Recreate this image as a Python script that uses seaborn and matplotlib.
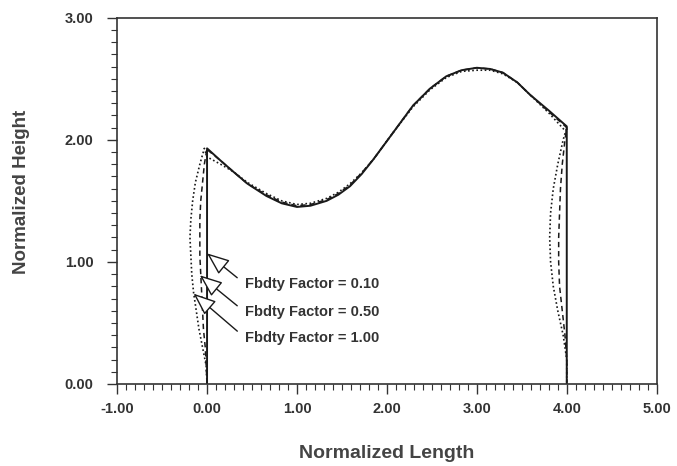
import numpy as np
import pandas as pd
import seaborn as sns
import matplotlib
matplotlib.use("Agg")
import matplotlib.pyplot as plt
from matplotlib.ticker import MultipleLocator, FormatStrFormatter

# left wall, read bottom to top
wall_y = [0.0, 0.15, 0.3, 0.45, 0.6, 0.75, 0.9, 1.05, 1.2, 1.35, 1.5, 1.65, 1.8, 1.93]
left_x_010 = [0.0, 0.0, 0.0, 0.0, 0.0, 0.0, 0.0, 0.0, 0.0, 0.0, 0.0, 0.0, 0.0, 0.0]
left_x_050 = [0.0, -0.01, -0.02, -0.04, -0.05, -0.06, -0.07, -0.08, -0.08, -0.08, -0.07, -0.05, -0.03, 0.0]
left_x_100 = [0.0, -0.01, -0.05, -0.09, -0.12, -0.15, -0.17, -0.18, -0.19, -0.18, -0.16, -0.13, -0.08, -0.03]

# top surface, read left to right
top_x = [0.0, 0.15, 0.29, 0.45, 0.66, 0.83, 1.0, 1.15, 1.33, 1.46, 1.59, 1.72, 1.85, 2.07,
         2.29, 2.48, 2.66, 2.83, 3.0, 3.15, 3.29, 3.45, 3.59, 3.8, 4.0]
top_y_010 = [1.93, 1.83, 1.74, 1.64, 1.54, 1.48, 1.45, 1.46, 1.50, 1.55, 1.62, 1.72, 1.84, 2.06,
             2.28, 2.42, 2.52, 2.57, 2.59, 2.58, 2.55, 2.47, 2.37, 2.24, 2.11]
top_y_050 = [1.92, 1.83, 1.74, 1.64, 1.55, 1.49, 1.46, 1.47, 1.51, 1.56, 1.63, 1.73, 1.84, 2.06,
             2.28, 2.42, 2.52, 2.57, 2.59, 2.58, 2.55, 2.47, 2.37, 2.23, 2.10]
top_y_100 = [1.86, 1.80, 1.74, 1.65, 1.56, 1.50, 1.47, 1.48, 1.52, 1.57, 1.64, 1.73, 1.84, 2.06,
             2.27, 2.41, 2.51, 2.56, 2.57, 2.57, 2.54, 2.47, 2.37, 2.22, 2.06]

# right wall, read top to bottom
right_y = [2.1, 2.0, 1.8, 1.6, 1.4, 1.2, 1.0, 0.8, 0.6, 0.4, 0.2, 0.0]
right_x_010 = [4.0, 4.0, 4.0, 4.0, 4.0, 4.0, 4.0, 4.0, 4.0, 4.0, 4.0, 4.0]
right_x_050 = [4.0, 3.98, 3.95, 3.93, 3.92, 3.91, 3.91, 3.92, 3.95, 3.98, 4.0, 4.0]
right_x_100 = [4.0, 3.96, 3.90, 3.85, 3.82, 3.81, 3.82, 3.85, 3.90, 3.96, 4.0, 4.0]

labels = ["Fbdty Factor = 0.10", "Fbdty Factor = 0.50", "Fbdty Factor = 1.00"]
arrow_tips_x = [0.0, -0.08, -0.15]
arrow_tips_y = [1.07, 0.89, 0.74]
label_y = [0.82, 0.59, 0.38]


def outline(lx, ty, rx):
    xs = list(lx) + top_x + list(rx)
    ys = list(wall_y) + list(ty) + right_y
    return pd.DataFrame({"x": xs, "y": ys})


sns.set_style("ticks")
plt.rcParams["font.family"] = ["Liberation Sans", "DejaVu Sans"]

fig = plt.figure(figsize=(6.77, 4.66), dpi=100)
ax = fig.add_axes([0.173, 0.176, 0.797, 0.786])

styles = [("-", 1.4), ((0, (3.5, 2.5)), 1.1), ((0, (1, 1.5)), 1.2)]
sets = [(left_x_010, top_y_010, right_x_010),
        (left_x_050, top_y_050, right_x_050),
        (left_x_100, top_y_100, right_x_100)]
for (lx, ty, rx), (ls, lw) in zip(sets, styles):
    df = outline(lx, ty, rx)
    sns.lineplot(data=df, x="x", y="y", sort=False, estimator=None,
                 color="#1a1a1a", linestyle=ls, linewidth=lw, ax=ax)

# labels with open arrow heads
for lab, tx, tyy, ly in zip(labels, arrow_tips_x, arrow_tips_y, label_y):
    ax.annotate(lab, xy=(tx, tyy), xytext=(0.42, ly), fontsize=10.5, fontweight="bold",
                color="#333333", va="center",
                arrowprops=dict(arrowstyle="-|>,head_length=1.0,head_width=0.4",
                                fc="white", ec="#1a1a1a", lw=1.0, relpos=(0, 0.5),
                                mutation_scale=14, shrinkA=4, shrinkB=0))

ax.set_xlim(-1, 5)
ax.set_ylim(0, 3)
ax.xaxis.set_major_locator(MultipleLocator(1))
ax.xaxis.set_minor_locator(MultipleLocator(0.1))
ax.yaxis.set_major_locator(MultipleLocator(1))
ax.yaxis.set_minor_locator(MultipleLocator(0.1))
ax.xaxis.set_major_formatter(FormatStrFormatter("%.2f"))
ax.yaxis.set_major_formatter(FormatStrFormatter("%.2f"))
ax.tick_params(which="major", direction="out", length=7, width=1.0,
               labelsize=10.5, colors="#333333")
ax.tick_params(axis="y", which="major", pad=10)
ax.tick_params(axis="x", which="major", pad=6)
ax.tick_params(which="minor", direction="out", length=4, width=0.8, colors="#333333")
for lab in ax.get_xticklabels() + ax.get_yticklabels():
    lab.set_fontweight("bold")
for sp in ax.spines.values():
    sp.set_color("#333333")
    sp.set_linewidth(1.2)

ax.set_xlabel("Normalized Length", fontsize=14, fontweight="bold", color="#444444", va="center")
ax.set_ylabel("Normalized Height", fontsize=13.5, fontweight="bold", color="#444444", va="center")
ax.xaxis.set_label_coords(0.5, -0.189)
ax.yaxis.set_label_coords(-0.178, 0.525)

fig.savefig("out.png", dpi=100)
